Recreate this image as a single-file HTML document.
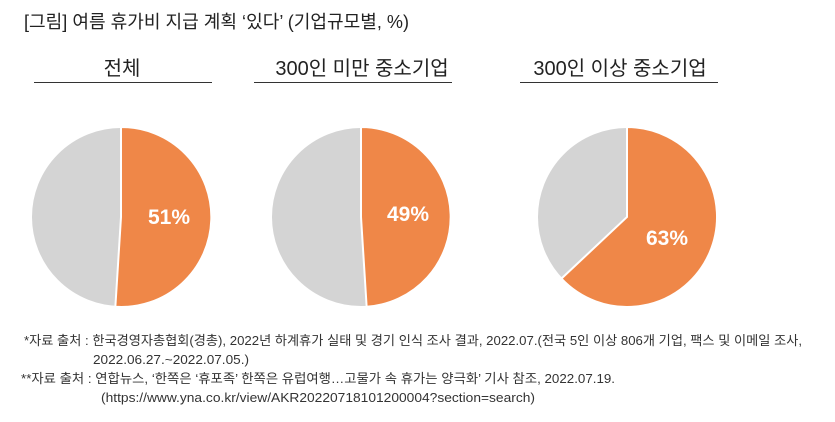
<!DOCTYPE html>
<html><head><meta charset="utf-8"><style>
body{margin:0;background:#fff;}
svg{display:block}
text{font-family:"Liberation Sans","Noto Sans CJK KR",sans-serif;}
</style></head><body>
<svg width="835" height="422" viewBox="0 0 835 422">
<text x="24" y="28" font-size="18" fill="#222" textLength="385" lengthAdjust="spacingAndGlyphs">[그림] 여름 휴가비 지급 계획 ‘있다’ (기업규모별, %)</text>
<text x="122" y="75" font-size="20" fill="#222" text-anchor="middle">전체</text>
<text x="362" y="75" font-size="20" fill="#222" text-anchor="middle">300인 미만 중소기업</text>
<text x="620" y="75" font-size="20" fill="#222" text-anchor="middle">300인 이상 중소기업</text>
<line x1="34" y1="82.5" x2="212" y2="82.5" stroke="#333" stroke-width="1"/>
<line x1="254" y1="82.5" x2="452" y2="82.5" stroke="#333" stroke-width="1"/>
<line x1="520" y1="82.5" x2="718" y2="82.5" stroke="#333" stroke-width="1"/>
<g stroke="#fff" stroke-width="2">
<circle cx="121" cy="217" r="90" fill="#d4d4d4"/>
<path d="M121 217 L121 127 A90 90 0 1 1 115.35 306.8 Z" fill="#ef8748"/>
<circle cx="361" cy="217" r="90" fill="#d4d4d4"/>
<path d="M361 217 L361 127 A90 90 0 0 1 366.65 306.8 Z" fill="#ef8748"/>
<circle cx="627" cy="217" r="90" fill="#d4d4d4"/>
<path d="M627 217 L627 127 A90 90 0 1 1 561.4 278.6 Z" fill="#ef8748"/>
</g>
<g fill="#fff" font-size="21" font-weight="bold" text-anchor="middle">
<text x="169" y="224">51%</text>
<text x="408" y="221">49%</text>
<text x="667" y="245">63%</text>
</g>
<g font-size="13" fill="#333" lengthAdjust="spacingAndGlyphs">
<text x="24" y="345" textLength="778" lengthAdjust="spacingAndGlyphs">*자료 출처 : 한국경영자총협회(경총), 2022년 하계휴가 실태 및 경기 인식 조사 결과, 2022.07.(전국 5인 이상 806개 기업, 팩스 및 이메일 조사,</text>
<text x="93" y="364" textLength="156" lengthAdjust="spacingAndGlyphs">2022.06.27.~2022.07.05.)</text>
<text x="21" y="383" textLength="594" lengthAdjust="spacingAndGlyphs">**자료 출처 : 연합뉴스, ‘한쪽은 ‘휴포족’ 한쪽은 유럽여행…고물가 속 휴가는 양극화’ 기사 참조, 2022.07.19.</text>
<text x="101" y="402" textLength="434" lengthAdjust="spacingAndGlyphs">(https://www.yna.co.kr/view/AKR20220718101200004?section=search)</text>
</g>
</svg>
</body></html>
